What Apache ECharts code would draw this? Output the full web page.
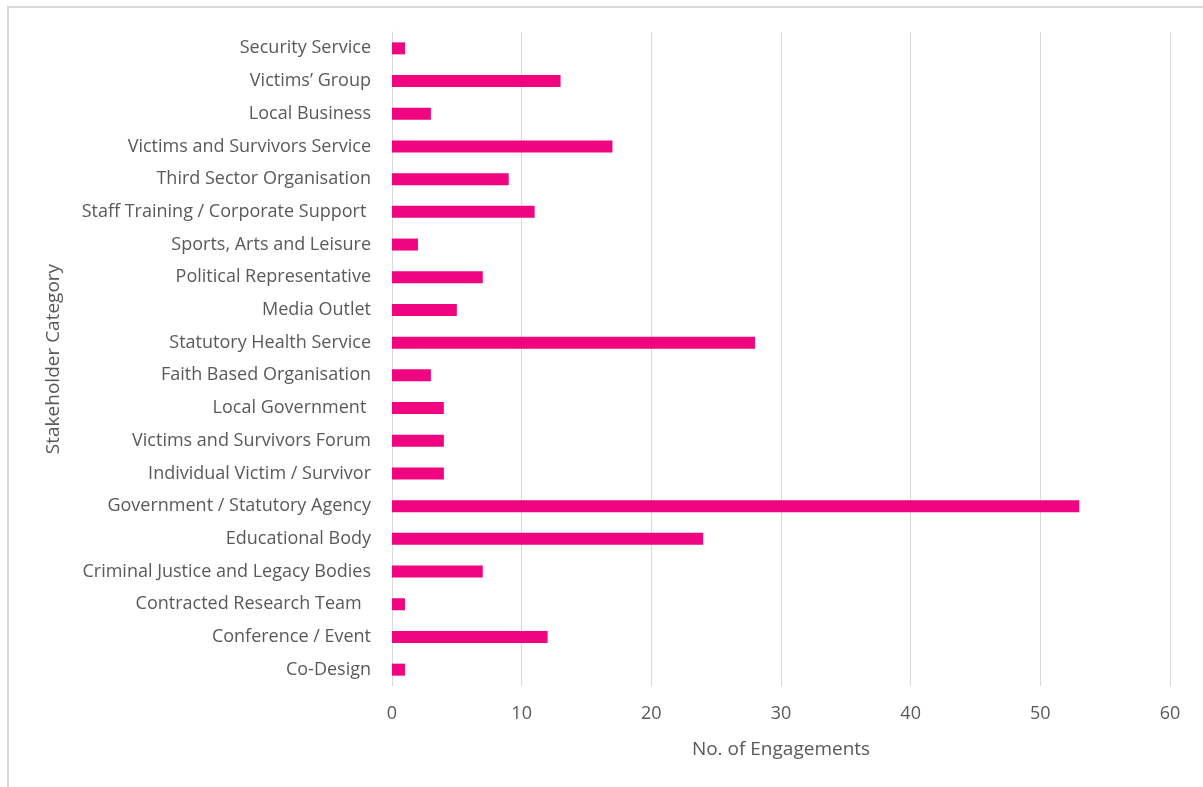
<!DOCTYPE html>
<html>
<head>
<meta charset="utf-8">
<script src="https://cdn.jsdelivr.net/npm/echarts@6/dist/echarts.min.js"></script>
<style>
  html, body { margin: 0; padding: 0; background: #ffffff; }
  #frame { position: absolute; left: 7px; top: 6px; width: 1220px; height: 800px;
           border-left: 2px solid #d9d9d9; border-top: 2px solid #d9d9d9; box-sizing: border-box; }
  #chart { position: absolute; left: 0; top: 0; width: 1203px; height: 787px; }
</style>
</head>
<body>
<div id="frame"></div>
<div id="chart"></div>
<script>
// Stakeholder categories, listed bottom to top as the category axis draws them
const categories = [
  'Co-Design',
  'Conference / Event',
  'Contracted Research Team  ',
  'Criminal Justice and Legacy Bodies',
  'Educational Body',
  'Government / Statutory Agency',
  'Individual Victim / Survivor',
  'Victims and Survivors Forum',
  'Local Government ',
  'Faith Based Organisation',
  'Statutory Health Service',
  'Media Outlet',
  'Political Representative',
  'Sports, Arts and Leisure',
  'Staff Training / Corporate Support ',
  'Third Sector Organisation',
  'Victims and Survivors Service',
  'Local Business',
  'Victims\u2019 Group',
  'Security Service'
];

// Number of engagements per category (same order)
const engagements = [1, 12, 1, 7, 24, 53, 4, 4, 4, 3, 28, 5, 7, 2, 11, 9, 17, 3, 13, 1];

const xTicks = { min: 0, max: 60, interval: 10 };

const chart = echarts.init(document.getElementById('chart'), null, { renderer: 'canvas' });
const textColor = '#595959';
const fontFamily = '"Open Sans", Lato, sans-serif';

chart.setOption({
  animation: false,
  grid: { left: 392, right: 33, top: 32, bottom: 101, containLabel: false },
  xAxis: {
    type: 'value',
    min: xTicks.min, max: xTicks.max, interval: xTicks.interval,
    name: 'No. of Engagements',
    nameLocation: 'middle',
    nameGap: 54,
    nameTextStyle: { color: textColor, fontSize: 19, fontFamily },
    axisLine: { show: false },
    axisTick: { show: false },
    axisLabel: { color: textColor, fontSize: 18, fontFamily, margin: 19 },
    splitLine: { show: true, lineStyle: { color: '#d9d9d9', width: 1 } }
  },
  yAxis: {
    type: 'category',
    data: categories,
    name: 'Stakeholder Category',
    nameLocation: 'middle',
    nameGap: 329,
    nameRotate: 90,
    nameTextStyle: { color: textColor, fontSize: 19, fontFamily },
    axisLine: { show: true, lineStyle: { color: '#d9d9d9', width: 1 } },
    axisTick: { show: false },
    axisLabel: { color: textColor, fontSize: 18, fontFamily, margin: 21 }
  },
  series: [{
    type: 'bar',
    data: engagements,
    barWidth: 12,
    itemStyle: { color: '#F0047F' }
  }]
});
</script>
</body>
</html>
